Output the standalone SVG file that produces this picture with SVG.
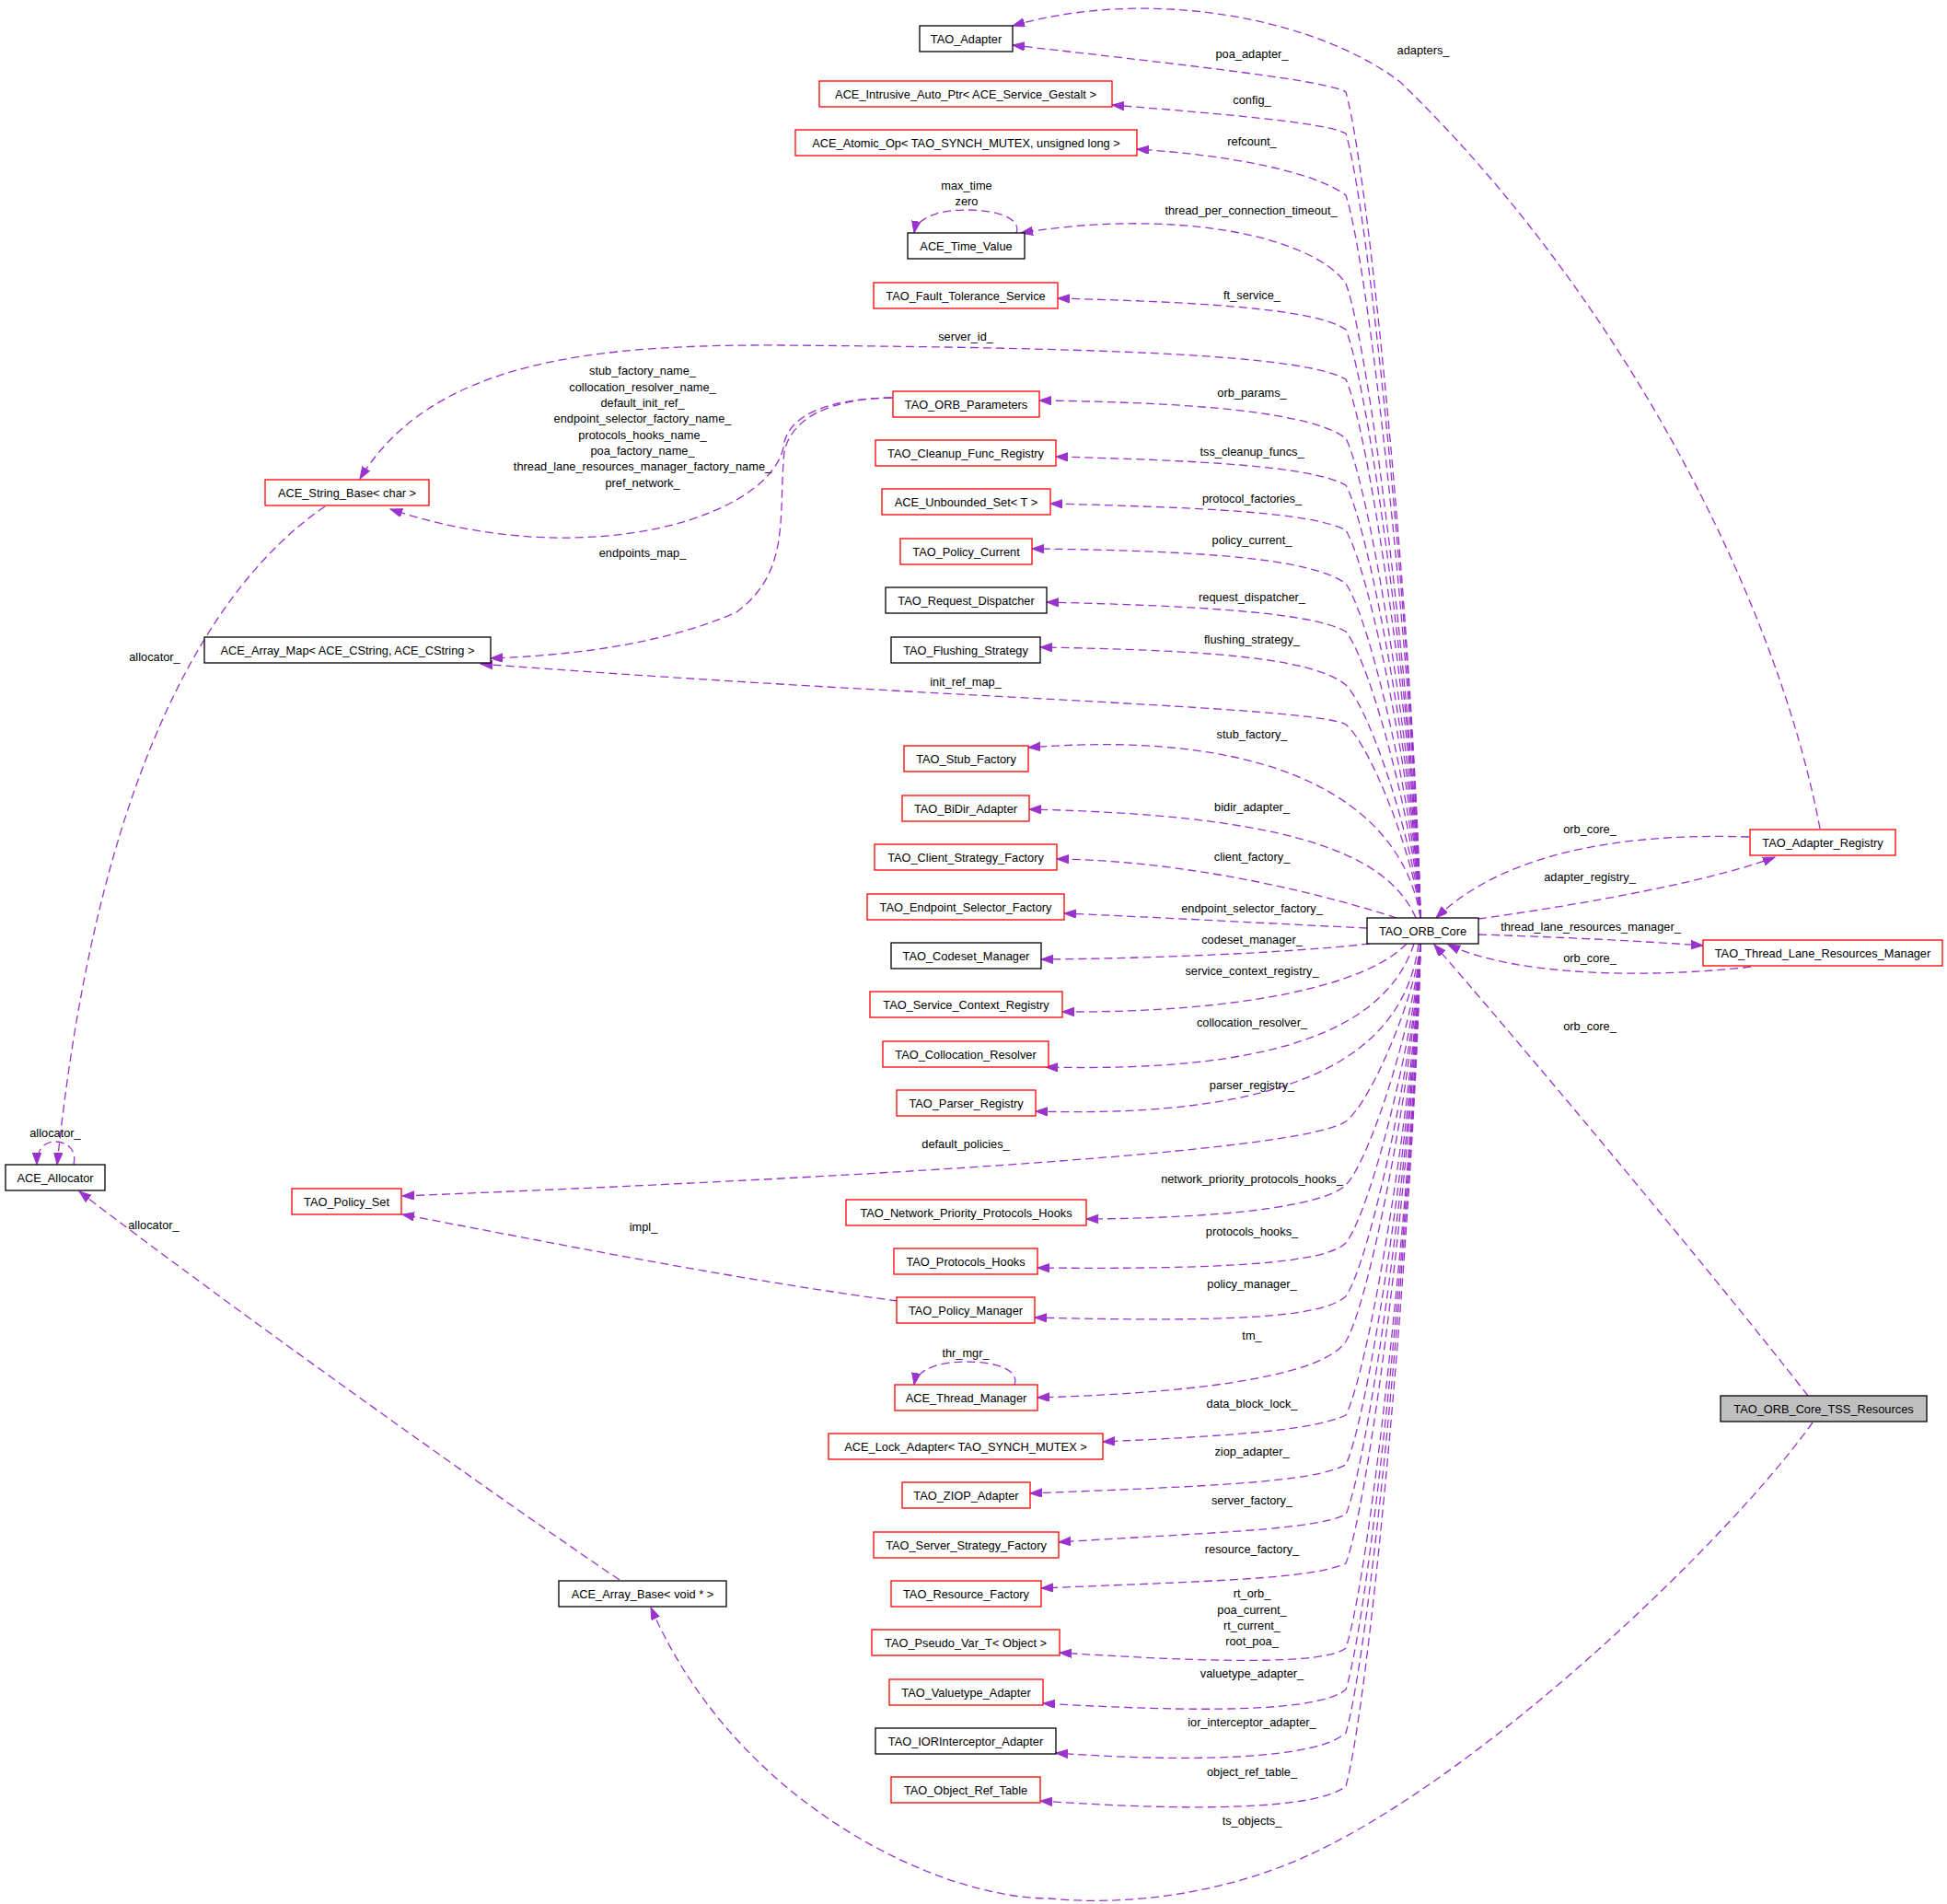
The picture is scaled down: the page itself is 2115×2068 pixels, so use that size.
<svg xmlns="http://www.w3.org/2000/svg" width="2115" height="2068" viewBox="0 0 2115 2068">
<style>
text{font-family:"Liberation Sans",Arial,Helvetica,sans-serif;font-size:12.8px;fill:#000;text-anchor:middle}
.n rect{fill:#fff;stroke:#000;stroke-width:1.3}
.n.r rect{stroke:#ff0000}
.n.g rect{fill:#bfbfbf}
#edges path{fill:none;stroke:#9a32cd;stroke-width:1.3;stroke-dasharray:9,5;marker-end:url(#ah)}
</style>
<defs>
<marker id="ah" markerUnits="userSpaceOnUse" markerWidth="15" markerHeight="11" refX="13" refY="4.7" orient="auto">
<path d="M0,0 L13,4.7 L0,9.4 Z" fill="#9a32cd" stroke="#9a32cd" stroke-width="1"/>
</marker>
</defs>
<rect width="2115" height="2068" fill="#fff"/>

<g id="edges">
<!-- upper edges from TAO_ORB_Core -->
<path d="M1543,997 C1538,739.6 1490,199.6 1462,100 C1445,88 1300,72 1100,49"/>
<path d="M1543,997 C1538,752.5 1490,239.6 1462,145 C1440,133 1330,124 1208,114"/>
<path d="M1543,997 C1538,771.7 1490,299 1462,212 C1425,185 1330,168 1235,162"/>
<path d="M1543,997 C1538,799.3 1490,384.5 1462,308 C1428,258 1280,225 1109,253"/>
<path d="M1543,997 C1538,813.6 1490,428.9 1462,358 C1430,335 1300,328 1149,324"/>
<path d="M1543,997 C1538,829 1490,477 1462,412 C1420,388 1250,378 850,375 C650,374 470,390 391,520"/>
<path d="M1543,997 C1538,847.5 1490,533.8 1462,476 C1425,448 1300,437 1129,435"/>
<path d="M1543,997 C1538,862 1490,579 1462,527 C1425,506 1300,500 1147,496"/>
<path d="M1543,997 C1538,876 1490,622.7 1462,576 C1425,556 1300,551 1141,547"/>
<path d="M1543,997 C1538,892.8 1490,674.3 1462,634 C1425,606 1300,598 1121,596"/>
<path d="M1543,997 C1538,907.7 1490,720.5 1462,686 C1425,665 1300,658 1137,654"/>
<path d="M1543,997 C1538,924.4 1490,772 1462,744 C1425,713 1300,706 1130,703"/>
<path d="M1543,997 C1538,936.7 1490,810.3 1462,787 C1430,767 1000,758 522,721"/>
<!-- middle edges -->
<path d="M1543,997 C1525,880 1400,790 1117,812"/>
<path d="M1538,997 C1505,920 1380,885 1118,879"/>
<path d="M1517,997 C1450,975 1300,935 1148,933"/>
<path d="M1485,1008 C1400,1004 1250,996 1156,992"/>
<path d="M1488,1025 C1400,1035 1250,1041 1131,1042"/>
<path d="M1528,1025 C1485,1070 1350,1100 1154,1099"/>
<path d="M1536,1025 C1505,1120 1380,1165 1136,1159"/>
<path d="M1541,1025 C1525,1150 1400,1215 1125,1207"/>
<!-- lower edges -->
<path d="M1543,1025 C1538,1080.4 1490,1196.6 1462,1218 C1430,1240 1200,1268 437,1299"/>
<path d="M1543,1025 C1538,1100.2 1490,1257.9 1462,1287 C1435,1312 1320,1323 1180,1324"/>
<path d="M1543,1025 C1538,1118.3 1490,1313.9 1462,1350 C1440,1372 1330,1379 1127,1377"/>
<path d="M1543,1025 C1538,1134.9 1490,1365.5 1462,1408 C1435,1432 1330,1436 1124,1431"/>
<path d="M1543,1025 C1538,1149 1490,1409 1462,1457 C1440,1490 1330,1512 1127,1518"/>
<path d="M1543,1025 C1538,1172 1490,1480.2 1462,1537 C1425,1555 1320,1560 1198,1566"/>
<path d="M1543,1025 C1538,1187.4 1490,1528.2 1462,1591 C1425,1610 1320,1614 1119,1622"/>
<path d="M1543,1025 C1538,1203 1490,1576.2 1462,1645 C1425,1662 1320,1664 1150,1675"/>
<path d="M1543,1025 C1538,1218 1490,1623.3 1462,1698 C1425,1715 1320,1717 1131,1725"/>
<path d="M1543,1025 C1538,1244.6 1490,1705.1 1462,1790 C1440,1808 1320,1806 1151,1795"/>
<path d="M1543,1025 C1538,1257.5 1490,1745.1 1462,1835 C1432,1860 1300,1860 1133,1850"/>
<path d="M1543,1025 C1538,1271 1490,1786.9 1462,1882 C1432,1910 1300,1915 1147,1904"/>
<path d="M1543,1025 C1538,1287.6 1490,1838.4 1462,1940 C1432,1965 1300,1968 1130,1956"/>
<!-- self loops -->
<path d="M1104,253 C1110,236 1080,228 1050,228 C1020,228 996,236 993,253"/>
<path d="M1102,1504 C1108,1487 1080,1479 1050,1479 C1020,1479 996,1487 993,1504"/>
<path d="M80,1265 C84,1248 72,1240 60,1240 C48,1240 40,1248 40,1265"/>
<!-- other edges -->
<path d="M969,432 C900,433 860,450 852,480 C844,560 640,625 424,553"/>
<path d="M969,432 C900,433 860,455 852,490 C845,560 860,620 800,665 C720,700 620,712 533,715"/>
<path d="M353,550 C250,620 110,800 62,1265"/>
<path d="M673,1716 C560,1640 250,1420 86,1294"/>
<path d="M975,1413 C800,1390 600,1350 437,1319"/>
<path d="M1977,900 C1930,650 1760,320 1521,89 C1430,20 1250,-15 1100,28"/>
<path d="M1900,909 C1780,905 1640,920 1560,997"/>
<path d="M1606,998 C1700,985 1850,960 1928,931"/>
<path d="M1606,1015 C1700,1018 1780,1022 1850,1027"/>
<path d="M1902,1050 C1800,1062 1650,1062 1573,1026"/>
<path d="M1964,1516 C1850,1370 1640,1120 1558,1026"/>
<path d="M1969,1545 C1880,1670 1620,1920 1430,2011 C1330,2059 1220,2070 1140,2062 C1020,2062 800,1960 707,1746"/>
</g>

<g id="edge-labels">
<text x="1360" y="62.5">poa_adapter_</text>
<text x="1360" y="113">config_</text>
<text x="1360" y="158">refcount_</text>
<text x="1050" y="205.5">max_time</text>
<text x="1050" y="223">zero</text>
<text x="1359" y="233">thread_per_connection_timeout_</text>
<text x="1360" y="324.5">ft_service_</text>
<text x="1049" y="369.5">server_id_</text>
<text x="1360" y="431">orb_params_</text>
<text x="1360" y="495">tss_cleanup_funcs_</text>
<text x="1360" y="546">protocol_factories_</text>
<text x="1360" y="591">policy_current_</text>
<text x="1360" y="653">request_dispatcher_</text>
<text x="1360" y="699">flushing_strategy_</text>
<text x="1049" y="745">init_ref_map_</text>
<text x="1360" y="802">stub_factory_</text>
<text x="1360" y="881">bidir_adapter_</text>
<text x="1360" y="935">client_factory_</text>
<text x="1360" y="990.5">endpoint_selector_factory_</text>
<text x="1360" y="1025">codeset_manager_</text>
<text x="1360" y="1059">service_context_registry_</text>
<text x="1360" y="1115">collocation_resolver_</text>
<text x="1360" y="1183">parser_registry_</text>
<text x="1049" y="1247">default_policies_</text>
<text x="1360" y="1285">network_priority_protocols_hooks_</text>
<text x="1360" y="1342">protocols_hooks_</text>
<text x="1360" y="1399">policy_manager_</text>
<text x="1360" y="1455">tm_</text>
<text x="1049" y="1474">thr_mgr_</text>
<text x="1360" y="1528.5">data_block_lock_</text>
<text x="1360" y="1581">ziop_adapter_</text>
<text x="1360" y="1634">server_factory_</text>
<text x="1360" y="1687">resource_factory_</text>
<text x="1360" y="1735">rt_orb_</text>
<text x="1360" y="1753">poa_current_</text>
<text x="1360" y="1770">rt_current_</text>
<text x="1360" y="1787">root_poa_</text>
<text x="1360" y="1822">valuetype_adapter_</text>
<text x="1360" y="1875">ior_interceptor_adapter_</text>
<text x="1360" y="1928.5">object_ref_table_</text>
<text x="1360" y="1982">ts_objects_</text>
<text x="1546" y="58.5">adapters_</text>
<text x="1727" y="905">orb_core_</text>
<text x="1727" y="957">adapter_registry_</text>
<text x="1728" y="1011">thread_lane_resources_manager_</text>
<text x="1727" y="1045">orb_core_</text>
<text x="1727" y="1119">orb_core_</text>
<text x="698" y="406.5">stub_factory_name_</text>
<text x="698" y="424.5">collocation_resolver_name_</text>
<text x="698" y="442">default_init_ref_</text>
<text x="698" y="459">endpoint_selector_factory_name_</text>
<text x="698" y="476.5">protocols_hooks_name_</text>
<text x="698" y="494">poa_factory_name_</text>
<text x="698" y="510.5">thread_lane_resources_manager_factory_name_</text>
<text x="698" y="529">pref_network_</text>
<text x="698" y="605">endpoints_map_</text>
<text x="168" y="718">allocator_</text>
<text x="60" y="1234.5">allocator_</text>
<text x="167" y="1334.5">allocator_</text>
<text x="699" y="1336.5">impl_</text>
</g>

<g id="TAO_Adapter" class="n"><rect x="999" y="28" width="101" height="28"/><text x="1049.5" y="46.6">TAO_Adapter</text></g>
<g id="ACE_Intrusive_Auto_Ptr" class="n r"><rect x="890" y="88" width="318" height="28"/><text x="1049" y="106.6">ACE_Intrusive_Auto_Ptr&lt; ACE_Service_Gestalt &gt;</text></g>
<g id="ACE_Atomic_Op" class="n r"><rect x="864" y="141" width="371" height="28"/><text x="1049.5" y="159.6">ACE_Atomic_Op&lt; TAO_SYNCH_MUTEX, unsigned long &gt;</text></g>
<g id="ACE_Time_Value" class="n"><rect x="986" y="253" width="127" height="28"/><text x="1049.5" y="271.6">ACE_Time_Value</text></g>
<g id="TAO_Fault_Tolerance_Service" class="n r"><rect x="949" y="307" width="200" height="28"/><text x="1049" y="325.6">TAO_Fault_Tolerance_Service</text></g>
<g id="TAO_ORB_Parameters" class="n r"><rect x="970" y="425" width="159" height="28"/><text x="1049.5" y="443.6">TAO_ORB_Parameters</text></g>
<g id="TAO_Cleanup_Func_Registry" class="n r"><rect x="951" y="478" width="196" height="28"/><text x="1049" y="496.6">TAO_Cleanup_Func_Registry</text></g>
<g id="ACE_Unbounded_Set" class="n r"><rect x="958" y="531" width="183" height="28"/><text x="1049.5" y="549.6">ACE_Unbounded_Set&lt; T &gt;</text></g>
<g id="TAO_Policy_Current" class="n r"><rect x="978" y="585" width="143" height="28"/><text x="1049.5" y="603.6">TAO_Policy_Current</text></g>
<g id="TAO_Request_Dispatcher" class="n"><rect x="962" y="638" width="175" height="28"/><text x="1049.5" y="656.6">TAO_Request_Dispatcher</text></g>
<g id="TAO_Flushing_Strategy" class="n"><rect x="968" y="692" width="162" height="28"/><text x="1049" y="710.6">TAO_Flushing_Strategy</text></g>
<g id="TAO_Stub_Factory" class="n r"><rect x="982" y="810" width="135" height="28"/><text x="1049.5" y="828.6">TAO_Stub_Factory</text></g>
<g id="TAO_BiDir_Adapter" class="n r"><rect x="980" y="864" width="138" height="28"/><text x="1049" y="882.6">TAO_BiDir_Adapter</text></g>
<g id="TAO_Client_Strategy_Factory" class="n r"><rect x="950" y="917" width="198" height="28"/><text x="1049" y="935.6">TAO_Client_Strategy_Factory</text></g>
<g id="TAO_Endpoint_Selector_Factory" class="n r"><rect x="942" y="971" width="214" height="28"/><text x="1049" y="989.6">TAO_Endpoint_Selector_Factory</text></g>
<g id="TAO_Codeset_Manager" class="n"><rect x="968" y="1024" width="163" height="28"/><text x="1049.5" y="1042.6">TAO_Codeset_Manager</text></g>
<g id="TAO_Service_Context_Registry" class="n r"><rect x="945" y="1077" width="209" height="28"/><text x="1049.5" y="1095.6">TAO_Service_Context_Registry</text></g>
<g id="TAO_Collocation_Resolver" class="n r"><rect x="959" y="1131" width="180" height="28"/><text x="1049" y="1149.6">TAO_Collocation_Resolver</text></g>
<g id="TAO_Parser_Registry" class="n r"><rect x="974" y="1184" width="151" height="28"/><text x="1049.5" y="1202.6">TAO_Parser_Registry</text></g>
<g id="TAO_Network_Priority_Protocols_Hooks" class="n r"><rect x="919" y="1303" width="261" height="28"/><text x="1049.5" y="1321.6">TAO_Network_Priority_Protocols_Hooks</text></g>
<g id="TAO_Protocols_Hooks" class="n r"><rect x="971" y="1356" width="156" height="28"/><text x="1049" y="1374.6">TAO_Protocols_Hooks</text></g>
<g id="TAO_Policy_Manager" class="n r"><rect x="974" y="1409" width="150" height="28"/><text x="1049" y="1427.6">TAO_Policy_Manager</text></g>
<g id="ACE_Thread_Manager" class="n r"><rect x="972" y="1504" width="155" height="28"/><text x="1049.5" y="1522.6">ACE_Thread_Manager</text></g>
<g id="ACE_Lock_Adapter" class="n r"><rect x="900" y="1557" width="298" height="28"/><text x="1049" y="1575.6">ACE_Lock_Adapter&lt; TAO_SYNCH_MUTEX &gt;</text></g>
<g id="TAO_ZIOP_Adapter" class="n r"><rect x="980" y="1610" width="139" height="28"/><text x="1049.5" y="1628.6">TAO_ZIOP_Adapter</text></g>
<g id="TAO_Server_Strategy_Factory" class="n r"><rect x="949" y="1664" width="201" height="28"/><text x="1049.5" y="1682.6">TAO_Server_Strategy_Factory</text></g>
<g id="TAO_Resource_Factory" class="n r"><rect x="968" y="1717" width="163" height="28"/><text x="1049.5" y="1735.6">TAO_Resource_Factory</text></g>
<g id="TAO_Pseudo_Var_T" class="n r"><rect x="947" y="1770" width="204" height="28"/><text x="1049" y="1788.6">TAO_Pseudo_Var_T&lt; Object &gt;</text></g>
<g id="TAO_Valuetype_Adapter" class="n r"><rect x="966" y="1824" width="167" height="28"/><text x="1049.5" y="1842.6">TAO_Valuetype_Adapter</text></g>
<g id="TAO_IORInterceptor_Adapter" class="n"><rect x="951" y="1877" width="196" height="28"/><text x="1049" y="1895.6">TAO_IORInterceptor_Adapter</text></g>
<g id="TAO_Object_Ref_Table" class="n r"><rect x="968" y="1930" width="162" height="28"/><text x="1049" y="1948.6">TAO_Object_Ref_Table</text></g>

<g id="ACE_String_Base" class="n r"><rect x="288" y="521" width="178" height="28"/><text x="377" y="539.6">ACE_String_Base&lt; char &gt;</text></g>
<g id="ACE_Array_Map" class="n"><rect x="222" y="692" width="311" height="28"/><text x="377.5" y="710.6">ACE_Array_Map&lt; ACE_CString, ACE_CString &gt;</text></g>
<g id="ACE_Allocator" class="n"><rect x="6" y="1265" width="108" height="28"/><text x="60" y="1283.6">ACE_Allocator</text></g>
<g id="TAO_Policy_Set" class="n r"><rect x="317" y="1291" width="119" height="28"/><text x="376.5" y="1309.6">TAO_Policy_Set</text></g>
<g id="ACE_Array_Base" class="n"><rect x="607" y="1717" width="182" height="28"/><text x="698" y="1735.6">ACE_Array_Base&lt; void * &gt;</text></g>

<g id="TAO_ORB_Core" class="n"><rect x="1485" y="997" width="121" height="28"/><text x="1545.5" y="1015.6">TAO_ORB_Core</text></g>
<g id="TAO_Adapter_Registry" class="n r"><rect x="1901" y="901" width="158" height="28"/><text x="1980" y="919.6">TAO_Adapter_Registry</text></g>
<g id="TAO_Thread_Lane_Resources_Manager" class="n r"><rect x="1850" y="1021" width="260" height="28"/><text x="1980" y="1039.6">TAO_Thread_Lane_Resources_Manager</text></g>
<g id="TAO_ORB_Core_TSS_Resources" class="n g"><rect x="1869" y="1516" width="224" height="28"/><text x="1981" y="1534.6">TAO_ORB_Core_TSS_Resources</text></g>
</svg>
